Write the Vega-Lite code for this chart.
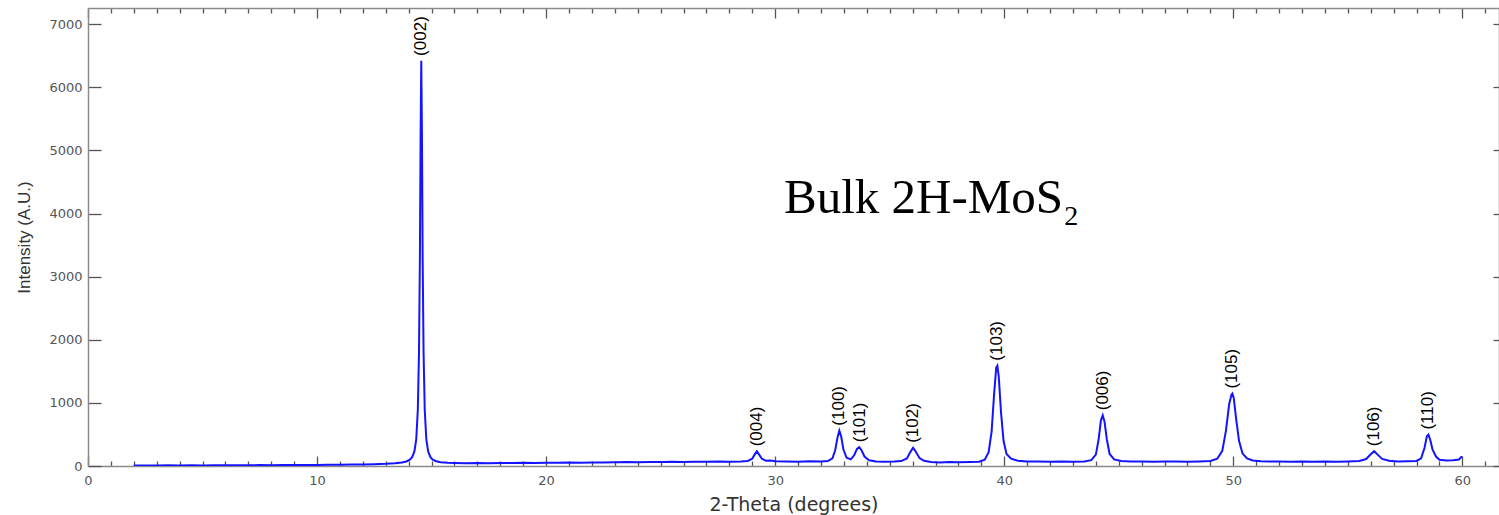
{
  "$schema": "https://vega.github.io/schema/vega-lite/v6.json",
  "width": 1411,
  "height": 458,
  "autosize": {"type": "none"},
  "padding": {"left": 88, "top": 8, "right": 0, "bottom": 49},
  "background": "white",
  "config": {
    "view": {"stroke": null},
    "axis": {
      "grid": false,
      "domainColor": "#8a8a8a",
      "domainWidth": 1.5,
      "tickColor": "#555555",
      "tickWidth": 1.3,
      "labelColor": "#555555",
      "labelFont": "DejaVu Sans",
      "labelFontSize": 13,
      "titleColor": "#333333",
      "titleFontWeight": "normal"
    }
  },
  "datasets": {
    "xrd": [
      {"theta": 2.0, "intensity": 6}, {"theta": 2.5, "intensity": 9}, {"theta": 3.0, "intensity": 7}, {"theta": 3.5, "intensity": 10},
      {"theta": 4.0, "intensity": 8}, {"theta": 4.5, "intensity": 11}, {"theta": 5.0, "intensity": 9}, {"theta": 5.5, "intensity": 12},
      {"theta": 6.0, "intensity": 10}, {"theta": 6.5, "intensity": 13}, {"theta": 7.0, "intensity": 11}, {"theta": 7.5, "intensity": 14},
      {"theta": 8.0, "intensity": 13}, {"theta": 8.5, "intensity": 15}, {"theta": 9.0, "intensity": 14}, {"theta": 9.5, "intensity": 17},
      {"theta": 10.0, "intensity": 16}, {"theta": 10.5, "intensity": 19}, {"theta": 11.0, "intensity": 20}, {"theta": 11.5, "intensity": 23},
      {"theta": 12.0, "intensity": 25}, {"theta": 12.5, "intensity": 29}, {"theta": 13.0, "intensity": 34}, {"theta": 13.4, "intensity": 42},
      {"theta": 13.7, "intensity": 55}, {"theta": 13.9, "intensity": 72}, {"theta": 14.05, "intensity": 100}, {"theta": 14.15, "intensity": 140},
      {"theta": 14.25, "intensity": 230}, {"theta": 14.33, "intensity": 420}, {"theta": 14.4, "intensity": 900}, {"theta": 14.45, "intensity": 1800},
      {"theta": 14.49, "intensity": 3300}, {"theta": 14.52, "intensity": 5200}, {"theta": 14.55, "intensity": 6420}, {"theta": 14.58, "intensity": 5200},
      {"theta": 14.61, "intensity": 3300}, {"theta": 14.65, "intensity": 1800}, {"theta": 14.7, "intensity": 900}, {"theta": 14.77, "intensity": 420},
      {"theta": 14.85, "intensity": 230}, {"theta": 14.95, "intensity": 140}, {"theta": 15.05, "intensity": 100}, {"theta": 15.2, "intensity": 75},
      {"theta": 15.4, "intensity": 60}, {"theta": 15.7, "intensity": 52}, {"theta": 16.0, "intensity": 48}, {"theta": 16.5, "intensity": 45},
      {"theta": 17.0, "intensity": 47}, {"theta": 17.5, "intensity": 44}, {"theta": 18.0, "intensity": 48}, {"theta": 18.5, "intensity": 46},
      {"theta": 19.0, "intensity": 50}, {"theta": 19.5, "intensity": 48}, {"theta": 20.0, "intensity": 52}, {"theta": 20.5, "intensity": 50},
      {"theta": 21.0, "intensity": 55}, {"theta": 21.5, "intensity": 53}, {"theta": 22.0, "intensity": 57}, {"theta": 22.5, "intensity": 55},
      {"theta": 23.0, "intensity": 60}, {"theta": 23.5, "intensity": 62}, {"theta": 24.0, "intensity": 59}, {"theta": 24.5, "intensity": 64},
      {"theta": 25.0, "intensity": 62}, {"theta": 25.5, "intensity": 66}, {"theta": 26.0, "intensity": 64}, {"theta": 26.5, "intensity": 68},
      {"theta": 27.0, "intensity": 66}, {"theta": 27.5, "intensity": 70}, {"theta": 28.0, "intensity": 68}, {"theta": 28.5, "intensity": 72},
      {"theta": 28.8, "intensity": 80}, {"theta": 29.0, "intensity": 115}, {"theta": 29.1, "intensity": 180}, {"theta": 29.2, "intensity": 232},
      {"theta": 29.3, "intensity": 180}, {"theta": 29.42, "intensity": 115}, {"theta": 29.6, "intensity": 82}, {"theta": 29.8, "intensity": 88},
      {"theta": 30.0, "intensity": 74}, {"theta": 30.5, "intensity": 72}, {"theta": 31.0, "intensity": 68}, {"theta": 31.5, "intensity": 74},
      {"theta": 32.0, "intensity": 70}, {"theta": 32.3, "intensity": 78}, {"theta": 32.5, "intensity": 120}, {"theta": 32.62, "intensity": 250},
      {"theta": 32.72, "intensity": 450}, {"theta": 32.8, "intensity": 560}, {"theta": 32.88, "intensity": 470}, {"theta": 32.98, "intensity": 260},
      {"theta": 33.12, "intensity": 130}, {"theta": 33.3, "intensity": 105}, {"theta": 33.45, "intensity": 170}, {"theta": 33.57, "intensity": 270},
      {"theta": 33.67, "intensity": 297}, {"theta": 33.77, "intensity": 250}, {"theta": 33.9, "intensity": 150}, {"theta": 34.1, "intensity": 92},
      {"theta": 34.4, "intensity": 72}, {"theta": 34.8, "intensity": 66}, {"theta": 35.2, "intensity": 70}, {"theta": 35.5, "intensity": 78},
      {"theta": 35.75, "intensity": 120}, {"theta": 35.9, "intensity": 220}, {"theta": 36.02, "intensity": 288}, {"theta": 36.14, "intensity": 225},
      {"theta": 36.3, "intensity": 125}, {"theta": 36.5, "intensity": 82}, {"theta": 36.8, "intensity": 62}, {"theta": 37.2, "intensity": 56},
      {"theta": 37.6, "intensity": 64}, {"theta": 38.0, "intensity": 58}, {"theta": 38.5, "intensity": 62}, {"theta": 38.9, "intensity": 68},
      {"theta": 39.15, "intensity": 100}, {"theta": 39.32, "intensity": 220}, {"theta": 39.45, "intensity": 550}, {"theta": 39.56, "intensity": 1150},
      {"theta": 39.65, "intensity": 1560}, {"theta": 39.7, "intensity": 1590}, {"theta": 39.76, "intensity": 1420}, {"theta": 39.86, "intensity": 850},
      {"theta": 39.97, "intensity": 400}, {"theta": 40.1, "intensity": 190}, {"theta": 40.3, "intensity": 115}, {"theta": 40.6, "intensity": 82},
      {"theta": 41.0, "intensity": 70}, {"theta": 41.5, "intensity": 72}, {"theta": 42.0, "intensity": 67}, {"theta": 42.5, "intensity": 70},
      {"theta": 43.0, "intensity": 66}, {"theta": 43.5, "intensity": 72}, {"theta": 43.8, "intensity": 92}, {"theta": 44.0, "intensity": 180},
      {"theta": 44.12, "intensity": 420}, {"theta": 44.22, "intensity": 720}, {"theta": 44.3, "intensity": 804}, {"theta": 44.38, "intensity": 700},
      {"theta": 44.48, "intensity": 420}, {"theta": 44.6, "intensity": 190}, {"theta": 44.8, "intensity": 105}, {"theta": 45.1, "intensity": 80},
      {"theta": 45.5, "intensity": 72}, {"theta": 46.0, "intensity": 70}, {"theta": 46.5, "intensity": 66}, {"theta": 47.0, "intensity": 70},
      {"theta": 47.5, "intensity": 73}, {"theta": 48.0, "intensity": 68}, {"theta": 48.5, "intensity": 72}, {"theta": 49.0, "intensity": 80},
      {"theta": 49.3, "intensity": 115}, {"theta": 49.52, "intensity": 240}, {"theta": 49.68, "intensity": 560}, {"theta": 49.82, "intensity": 980},
      {"theta": 49.92, "intensity": 1130}, {"theta": 49.96, "intensity": 1147}, {"theta": 50.02, "intensity": 1080}, {"theta": 50.12, "intensity": 760},
      {"theta": 50.25, "intensity": 400}, {"theta": 50.4, "intensity": 200}, {"theta": 50.6, "intensity": 120}, {"theta": 50.85, "intensity": 88},
      {"theta": 51.2, "intensity": 76}, {"theta": 51.6, "intensity": 70}, {"theta": 52.0, "intensity": 72}, {"theta": 52.5, "intensity": 68},
      {"theta": 53.0, "intensity": 70}, {"theta": 53.5, "intensity": 66}, {"theta": 54.0, "intensity": 70}, {"theta": 54.5, "intensity": 68},
      {"theta": 55.0, "intensity": 73}, {"theta": 55.5, "intensity": 80}, {"theta": 55.8, "intensity": 110}, {"theta": 56.0, "intensity": 185},
      {"theta": 56.15, "intensity": 234}, {"theta": 56.3, "intensity": 180}, {"theta": 56.5, "intensity": 112}, {"theta": 56.8, "intensity": 82},
      {"theta": 57.2, "intensity": 72}, {"theta": 57.6, "intensity": 76}, {"theta": 58.0, "intensity": 80}, {"theta": 58.2, "intensity": 120},
      {"theta": 58.35, "intensity": 290}, {"theta": 58.45, "intensity": 470}, {"theta": 58.52, "intensity": 498}, {"theta": 58.6, "intensity": 410},
      {"theta": 58.7, "intensity": 260}, {"theta": 58.85, "intensity": 150}, {"theta": 59.0, "intensity": 98}, {"theta": 59.3, "intensity": 86},
      {"theta": 59.6, "intensity": 90}, {"theta": 59.85, "intensity": 102}, {"theta": 59.95, "intensity": 140}, {"theta": 60.0, "intensity": 148}
    ],
    "peaks": [
      {"theta": 14.55, "intensity": 6420, "hkl": "(002)"},
      {"theta": 29.2, "intensity": 232, "hkl": "(004)"},
      {"theta": 32.8, "intensity": 560, "hkl": "(100)"},
      {"theta": 33.72, "intensity": 297, "hkl": "(101)"},
      {"theta": 36.02, "intensity": 288, "hkl": "(102)"},
      {"theta": 39.7, "intensity": 1590, "hkl": "(103)"},
      {"theta": 44.3, "intensity": 804, "hkl": "(006)"},
      {"theta": 49.96, "intensity": 1147, "hkl": "(105)"},
      {"theta": 56.15, "intensity": 234, "hkl": "(106)"},
      {"theta": 58.52, "intensity": 498, "hkl": "(110)"}
    ]
  },
  "layer": [
    {
      "data": {"name": "xrd"},
      "mark": {"type": "line", "color": "#1414ff", "strokeWidth": 2, "clip": true},
      "encoding": {
        "x": {
          "field": "theta", "type": "quantitative",
          "scale": {"domain": [0, 61.6], "nice": false, "zero": false},
          "axis": {
            "orient": "bottom",
            "values": [0,1,2,3,4,5,6,7,8,9,10,11,12,13,14,15,16,17,18,19,20,21,22,23,24,25,26,27,28,29,30,31,32,33,34,35,36,37,38,39,40,41,42,43,44,45,46,47,48,49,50,51,52,53,54,55,56,57,58,59,60,61],
            "tickSize": {"condition": {"test": "datum.value % 10 === 0", "value": -10}, "value": -5},
            "labelExpr": "datum.value % 10 === 0 ? datum.label : ''",
            "labelOverlap": false,
            "labelFlush": false,
            "labelBound": false,
            "labelPadding": 18,
            "title": "2-Theta (degrees)",
            "titleFont": "DejaVu Sans",
            "titleFontSize": 19,
            "titlePadding": 3
          }
        },
        "y": {
          "field": "intensity", "type": "quantitative",
          "scale": {"domain": [0, 7258], "nice": false},
          "axis": {
            "orient": "left",
            "values": [0, 1000, 2000, 3000, 4000, 5000, 6000, 7000],
            "format": "d",
            "tickSize": -13,
            "labelPadding": 19,
            "labelOverlap": false,
            "labelFlush": false,
            "labelBound": false,
            "title": "Intensity (A.U.)",
            "titleFont": "Liberation Sans",
            "titleFontSize": 17,
            "titlePadding": 15
          }
        }
      }
    },
    {
      "data": {"name": "peaks"},
      "mark": {"type": "text", "angle": 270, "align": "left", "baseline": "middle", "dx": 5, "font": "Liberation Sans", "fontSize": 17, "color": "black"},
      "encoding": {
        "x": {"field": "theta", "type": "quantitative", "axis": null},
        "y": {"field": "intensity", "type": "quantitative", "axis": null},
        "text": {"field": "hkl"}
      }
    },
    {
      "data": {"values": [{}]},
      "mark": {"type": "text", "align": "right", "baseline": "alphabetic", "font": "Liberation Serif", "fontSize": 49, "color": "black"},
      "encoding": {
        "x": {
          "datum": 42.57, "type": "quantitative",
          "axis": {
            "orient": "top",
            "values": [0,1,2,3,4,5,6,7,8,9,10,11,12,13,14,15,16,17,18,19,20,21,22,23,24,25,26,27,28,29,30,31,32,33,34,35,36,37,38,39,40,41,42,43,44,45,46,47,48,49,50,51,52,53,54,55,56,57,58,59,60,61],
            "tickSize": {"condition": {"test": "datum.value % 10 === 0", "value": -10}, "value": -5},
            "labels": false,
            "title": null
          }
        },
        "y": {
          "datum": 4006, "type": "quantitative",
          "axis": {
            "orient": "right",
            "values": [0, 1000, 2000, 3000, 4000, 5000, 6000, 7000],
            "tickSize": -6,
            "labels": false,
            "title": null
          }
        },
        "text": {"value": "Bulk 2H-MoS"}
      }
    },
    {
      "data": {"values": [{}]},
      "mark": {"type": "text", "align": "left", "baseline": "alphabetic", "font": "Liberation Serif", "fontSize": 28, "color": "black"},
      "encoding": {
        "x": {"datum": 42.62, "type": "quantitative", "axis": null},
        "y": {"datum": 3820, "type": "quantitative", "axis": null},
        "text": {"value": "2"}
      }
    }
  ],
  "resolve": {"axis": {"x": "independent", "y": "independent"}}
}
